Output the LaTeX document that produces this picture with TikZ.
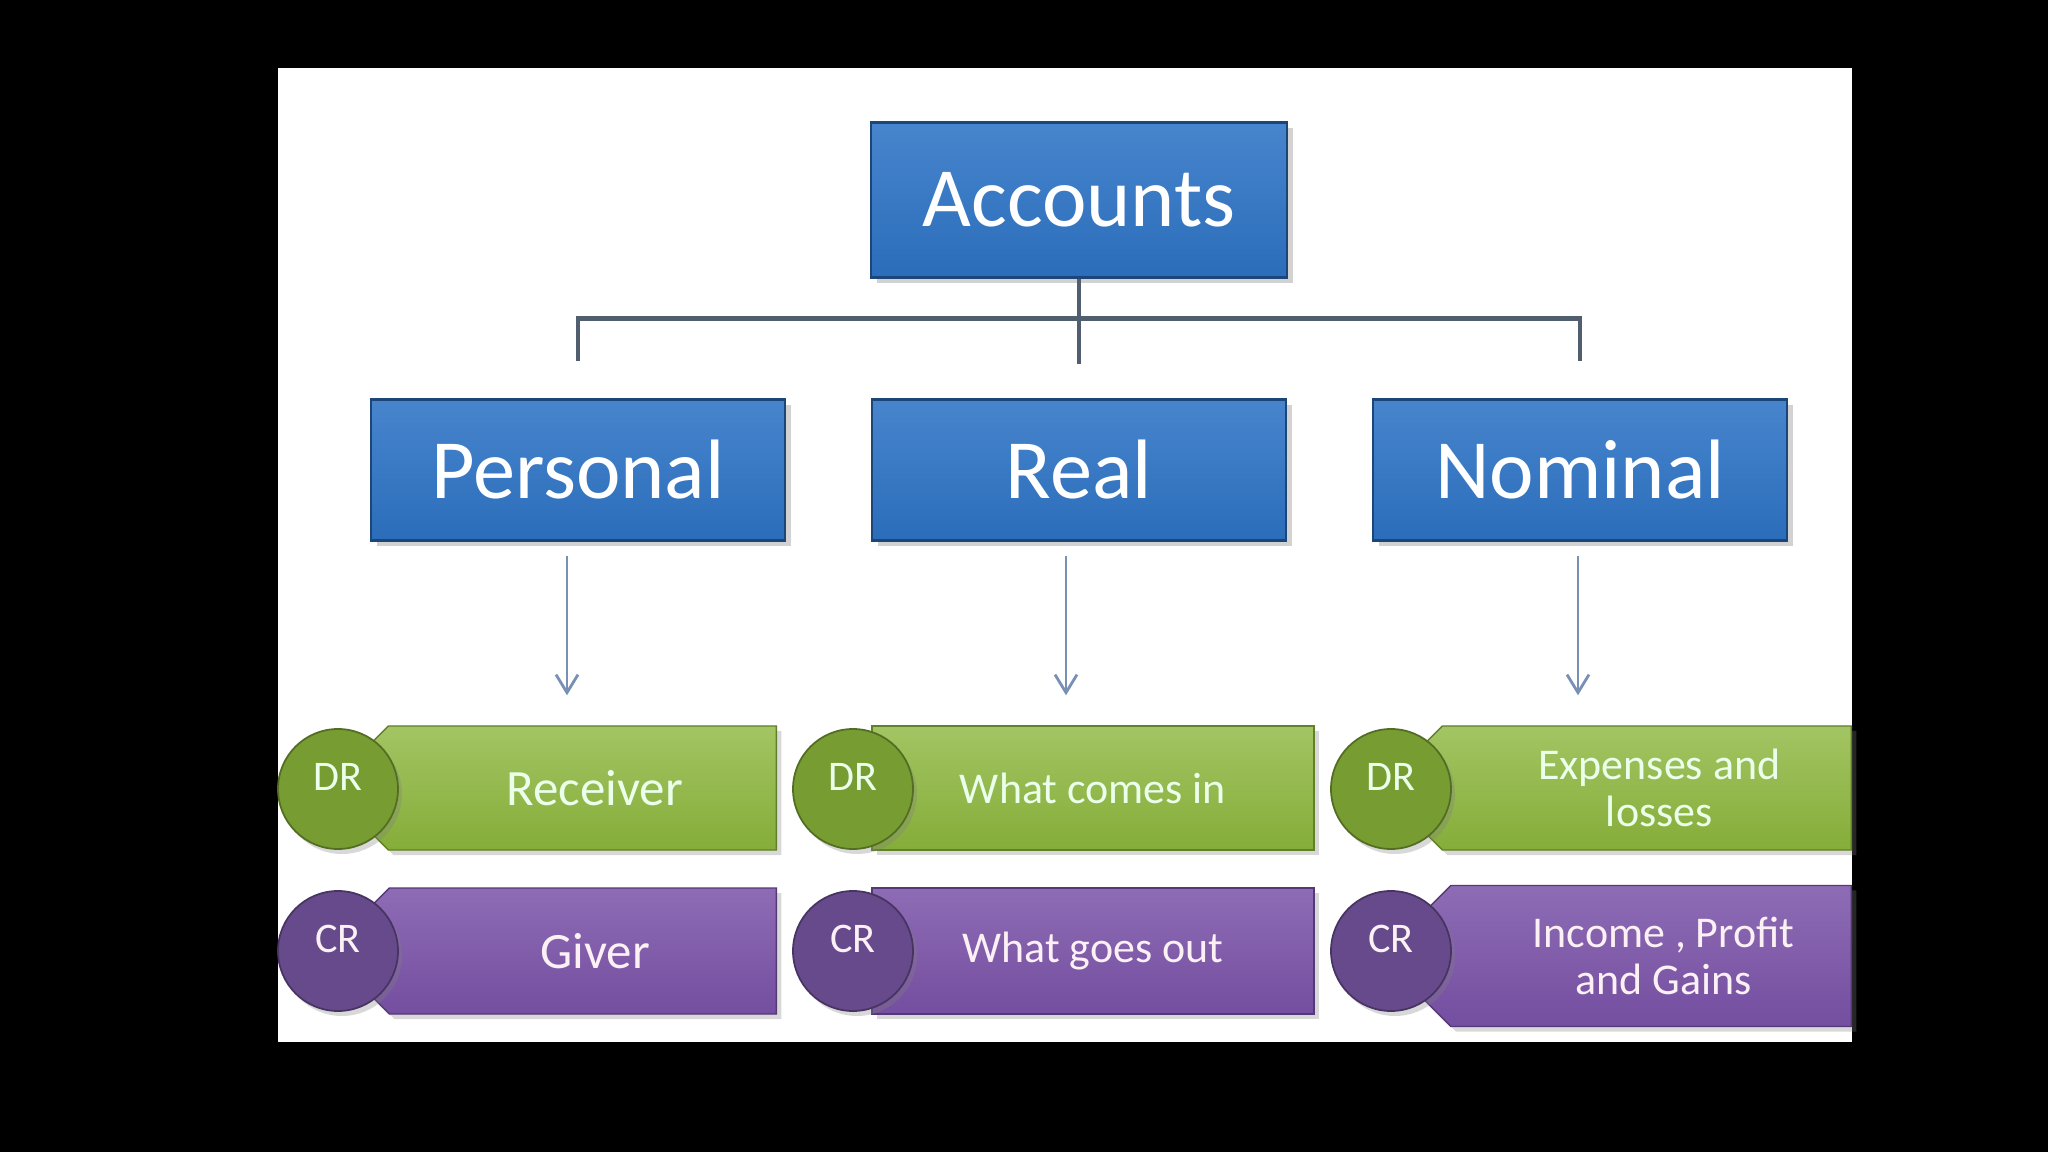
\documentclass[tikz,border=0pt]{standalone}
\usepackage{fontspec}
\setmainfont{Carlito}
\usepackage{xcolor}
\usetikzlibrary{shapes.symbols, arrows.meta, positioning, calc, shadows}

\definecolor{acctblue}{RGB}{46,116,198}
\definecolor{leafgreen}{RGB}{140,182,60}
\definecolor{dotgreen}{RGB}{118,156,50}
\definecolor{leafpurple}{RGB}{122,82,168}
\definecolor{dotpurple}{RGB}{103,74,140}
\definecolor{treeline}{RGB}{80,94,110}
\definecolor{flowline}{RGB}{120,144,180}

\newcommand{\tipgap}{\hspace*{2.5mm}}

\begin{document}
\begin{tikzpicture}[
        catbox/.style={draw=acctblue!60!black, line width=0.6pt, top color=acctblue!88!white, bottom color=acctblue!94!black,
            text=white, minimum width=4.14cm, minimum height=1.41cm, font=\fontsize{24}{24}\selectfont,
            drop shadow={opacity=0.35, shadow xshift=0.6mm, shadow yshift=-0.6mm}},
        drbox/.style={draw=leafgreen!70!black, line width=0.4pt, top color=leafgreen!80!white, bottom color=leafgreen!95!black,
            text=green!8!white, minimum height=1.24cm, align=center, font=\fontsize{14.5}{15}\selectfont,
            drop shadow={opacity=0.3, shadow xshift=0.5mm, shadow yshift=-0.5mm}},
        crbox/.style={drbox, draw=leafpurple!70!black, top color=leafpurple!85!white, bottom color=leafpurple!95!black,
            text=purple!6!white, minimum height=1.26cm},
        smalltext/.style={font=\fontsize{12.5}{13.3}\selectfont},
        arrowbox/.style={shape=signal, signal to=west, signal pointer angle=90},
        drdot/.style={circle, draw=dotgreen!70!black, line width=0.5pt, fill=dotgreen, minimum size=1.2cm, inner sep=0pt,
            text=green!8!white, font=\fontsize{12}{12}\selectfont, text depth=0.24cm,
            drop shadow={opacity=0.3, shadow xshift=0.4mm, shadow yshift=-0.5mm}},
        crdot/.style={drdot, draw=dotpurple!70!black, fill=dotpurple, text=purple!6!white},
        tree/.style={draw=treeline, line width=1.2pt},
        flow/.style={draw=flowline, line width=0.8pt, -{Straight Barb[length=1.8mm, width=2.2mm]}}
    ]
    \useasboundingbox (0,0) rectangle (20.48,-11.52);
    \fill[black] (0,0) rectangle (20.48,-11.52);
    \fill[white] (2.78,-0.68) rectangle (18.52,-10.42);

    \node[catbox, minimum width=4.16cm, minimum height=1.55cm] (acc) at (10.79,-2.00) {Accounts};
    \node[catbox] (per) at (5.78,-4.70) {Personal};
    \node[catbox] (real) at (10.79,-4.70) {Real};
    \node[catbox] (nom) at (15.80,-4.70) {Nominal};

    \draw[tree, line width=1pt] (acc.south) -- ([yshift=3.4mm]real.north);
    \draw[tree] ([yshift=3.7mm]per.north) -- ([yshift=8mm]per.north) -- ([yshift=8mm]nom.north) -- ([yshift=3.7mm]nom.north);

    % debit row
    \node[drbox, arrowbox, minimum width=4.50cm, anchor=east] (dr1) at (7.77,-7.88) {\tipgap Receiver};
    \node[drbox, smalltext, minimum width=4.42cm] (dr2) at (10.93,-7.88) {What comes in};
    \node[drbox, smalltext, arrowbox, minimum width=4.71cm, anchor=east] (dr3) at (18.52,-7.88) {\tipgap Expenses and\\\tipgap losses};
    % credit row
    \node[crbox, arrowbox, minimum width=4.50cm, anchor=east] (cr1) at (7.77,-9.51) {\tipgap Giver};
    \node[crbox, smalltext, minimum width=4.42cm] (cr2) at (10.93,-9.51) {What goes out};
    \node[crbox, smalltext, arrowbox, minimum width=4.71cm, minimum height=1.41cm, anchor=east] (cr3) at (18.52,-9.56) {\tipgap Income , Profit\\\tipgap and Gains};

    \node[drdot] (d1) at (3.38,-7.89) {DR};
    \node[drdot] (d2) at (8.53,-7.89) {DR};
    \node[drdot] (d3) at (13.91,-7.89) {DR};
    \node[crdot] (c1) at (3.38,-9.51) {CR};
    \node[crdot] (c2) at (8.53,-9.51) {CR};
    \node[crdot] (c3) at (13.91,-9.51) {CR};

    \draw[flow] ($(per.south)+(-0.11,-0.14)$) -- ($(per.south |- dr1.north)+(-0.11,0.30)$);
    \draw[flow] ($(real.south)+(-0.13,-0.14)$) -- ($(real.south |- dr2.north)+(-0.13,0.30)$);
    \draw[flow] ($(nom.south)+(-0.02,-0.14)$) -- ($(nom.south |- dr3.north)+(-0.02,0.30)$);
\end{tikzpicture}
\end{document}
